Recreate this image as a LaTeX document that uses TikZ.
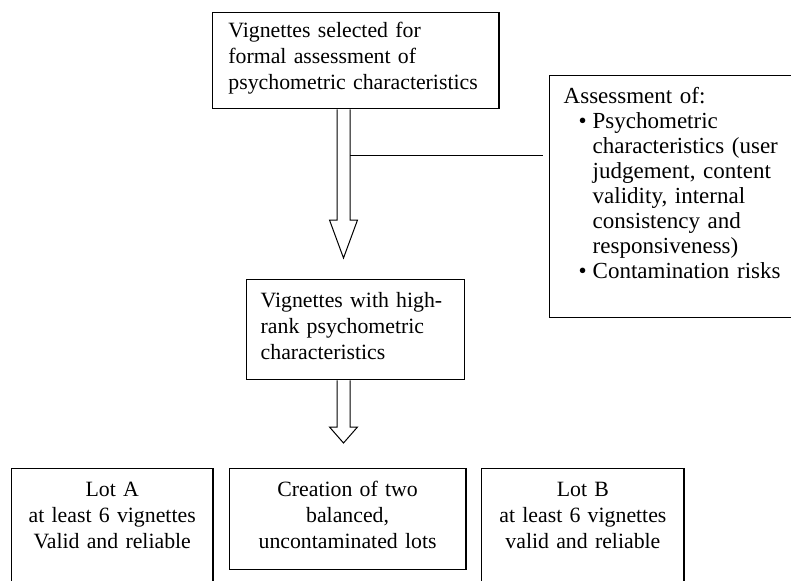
\documentclass[tikz,border=0pt]{standalone}
\usepackage{fontspec}
\setmainfont{Liberation Serif}
\usepackage{tikz}

% bullet line with hanging indent
\newcommand{\assessitem}[1]{\par\hangindent=14.5pt\hangafter=0\noindent\llap{\textbullet\hspace{3pt}}#1\par}
% hollow block arrow: source node, tip, head length
\newcommand{\fatarrow}[3]{%
  \draw[blockarr] ([xshift=-3.25pt]#1.south -| #2) -- ([xshift=-3.25pt,yshift=#3]#2)
    -- ([xshift=-7pt,yshift=#3]#2) -- (#2) -- ([xshift=7pt,yshift=#3]#2)
    -- ([xshift=3.25pt,yshift=#3]#2) -- ([xshift=3.25pt]#1.south -| #2);}

\begin{document}
\begin{tikzpicture}[x=0.5pt,y=-0.5pt,
    box/.style={draw, line width=0.7pt, anchor=north west, inner ysep=0pt,
      font=\fontsize{10.9pt}{13pt}\selectfont},
    lot/.style={box, inner xsep=0pt, align=center, text height=14pt},
    blockarr/.style={line width=0.5pt}]
  \clip (0,0) rectangle (791,580);

  \node[box, inner xsep=8pt, text width=127.2pt, align=left,
    text height=12.65pt, text depth=35.5pt] (sel) at (211.7,11.7)
    {Vignettes selected for\\formal assessment of\\psychometric characteristics};
  \node[box, inner xsep=7pt, text width=95pt, align=left,
    text height=14pt, text depth=36pt] (high) at (246,279)
    {Vignettes with high-\\rank psychometric\\characteristics};
  \node[box, inner xsep=7.25pt, text width=130pt, align=left,
    text height=14pt, text depth=107pt,
    font=\fontsize{11.5pt}{12.5pt}\selectfont] (assess) at (548.5,75)
    {Assessment of:\assessitem{Psychometric\newline characteristics (user\newline
     judgement, content\newline validity, internal\newline consistency and\newline
     responsiveness)}\assessitem{Contamination risks}};

  % the three lots
  \node[lot, text width=100.8pt, text depth=80pt] (lotA) at (10.7,468)
    {Lot A\\at least 6 vignettes\\Valid and reliable};
  \node[lot, text width=118.2pt, text depth=36.5pt] (creat) at (228.7,468)
    {Creation of two\\balanced,\\uncontaminated lots};
  \node[lot, text width=101.2pt, text depth=80pt] (lotB) at (481,468)
    {Lot B\\at least 6 vignettes\\valid and reliable};

  \coordinate (tip1) at (343.5,258);
  \coordinate (tip2) at (343.5,443);
  \fatarrow{sel}{tip1}{19pt}
  \fatarrow{high}{tip2}{8pt}

  \coordinate (branch) at (350,155);
  \draw[line width=0.5pt] (branch) -- ([xshift=-3pt]assess.west |- branch);
\end{tikzpicture}
\end{document}
